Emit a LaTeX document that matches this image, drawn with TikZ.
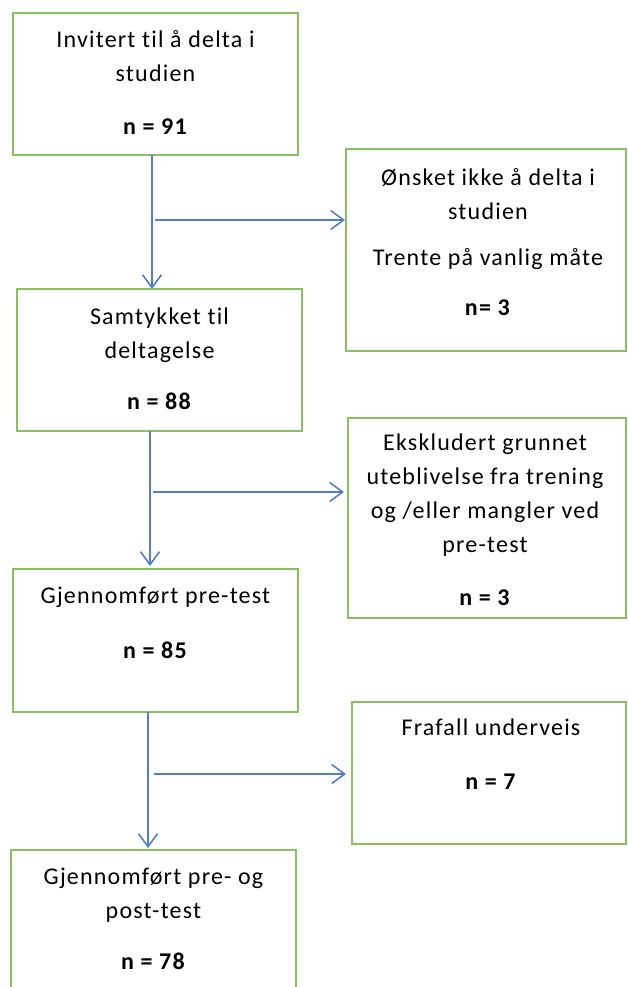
\documentclass[tikz,border=0pt]{standalone}
\usepackage{fontspec}
\setmainfont{Carlito}[LetterSpace=5, Ligatures=NoCommon]
\usepackage{tikz}
\usepackage{xcolor}
\usetikzlibrary{
    arrows.meta,
    calc,
    positioning
}
\definecolor{boxgreen}{RGB}{137,192,96}
\definecolor{flowblue}{RGB}{84,124,204}
\tikzset{
    box/.style={draw=boxgreen, line width=2pt, inner sep=0pt, outer sep=0pt,
        minimum width=285pt, minimum height=142pt},
    txt/.style={align=center, inner sep=0pt, font=\fontsize{24}{34}\selectfont},
    flow/.style={draw=flowblue, line width=1.6pt,
        -{Straight Barb[length=13pt,width=19pt]}}
}

\begin{document}
\begin{tikzpicture}[x=1pt, y=-1pt]
                        \useasboundingbox (0, 0) rectangle (627, 987);
                        \begin{scope}
                            \node[box] (invitert) at (155.5, 84) {};
                            \node[txt] (invitertText) at (155.5, 82)
                                {Invitert til å delta i\\ studien\\[19pt] \textbf{n = 91}};
                            \node[box] (samtykke) at (159.5, 360) {};
                            \node[txt] (samtykkeText) at (159.5, 359)
                                {Samtykket til\\ deltagelse\\[17pt] \textbf{n = 88}};
                            \node[box, minimum height=143pt] (pretest) at (155.5, 640.5) {};
                            \node[txt] (pretestText) at (155.5, 623)
                                {Gjennomført pre-test\\[21pt] \textbf{n = 85}};
                            \node[box, minimum height=150pt] (posttest) at (153.5, 925) {};
                            \node[txt] (posttestText) at (153.5, 919)
                                {Gjennomført pre- og\\ post-test\\[17pt] \textbf{n = 78}};
                        \end{scope}
                        \begin{scope}
                            \node[box, minimum width=280pt, minimum height=202pt] (nei) at (486, 250) {};
                            \node[txt] (neiText) at (488, 242)
                                {Ønsket ikke å delta i\\ studien\\[12pt] Trente på vanlig måte\\[16pt] \textbf{n= 3}};
                            \node[box, minimum width=278pt, minimum height=200pt] (ekskl) at (487, 518) {};
                            \node[txt] (eksklText) at (485, 520)
                                {Ekskludert grunnet\\ uteblivelse fra trening\\ og /eller mangler ved\\ pre-test\\[19pt] \textbf{n = 3}};
                            \node[box, minimum width=274pt] (frafall) at (489, 773) {};
                            \node[txt] (frafallText) at (491, 754)
                                {Frafall underveis\\[20pt] \textbf{n = 7}};
                        \end{scope}
                        \coordinate (split1) at (152, 220);
                        \coordinate (split2) at (150, 492);
                        \coordinate (split3) at (148, 774);
                        \draw[flow] (invitert.south -| split1) -- (samtykke.north -| split1);
                        \draw[flow, shorten >=1pt] ([xshift=3pt]split1) -- (split1 -| nei.west);
                        \draw[flow, shorten >=3pt] (samtykke.south -| split2) -- (pretest.north -| split2);
                        \draw[flow, shorten >=4pt] ([xshift=3pt]split2) -- (split2 -| ekskl.west);
                        \draw[flow, shorten >=2pt] (pretest.south -| split3) -- (posttest.north -| split3);
                        \draw[flow, shorten >=6pt] ([xshift=6pt]split3) -- (split3 -| frafall.west);
                    \end{tikzpicture}
\end{document}
